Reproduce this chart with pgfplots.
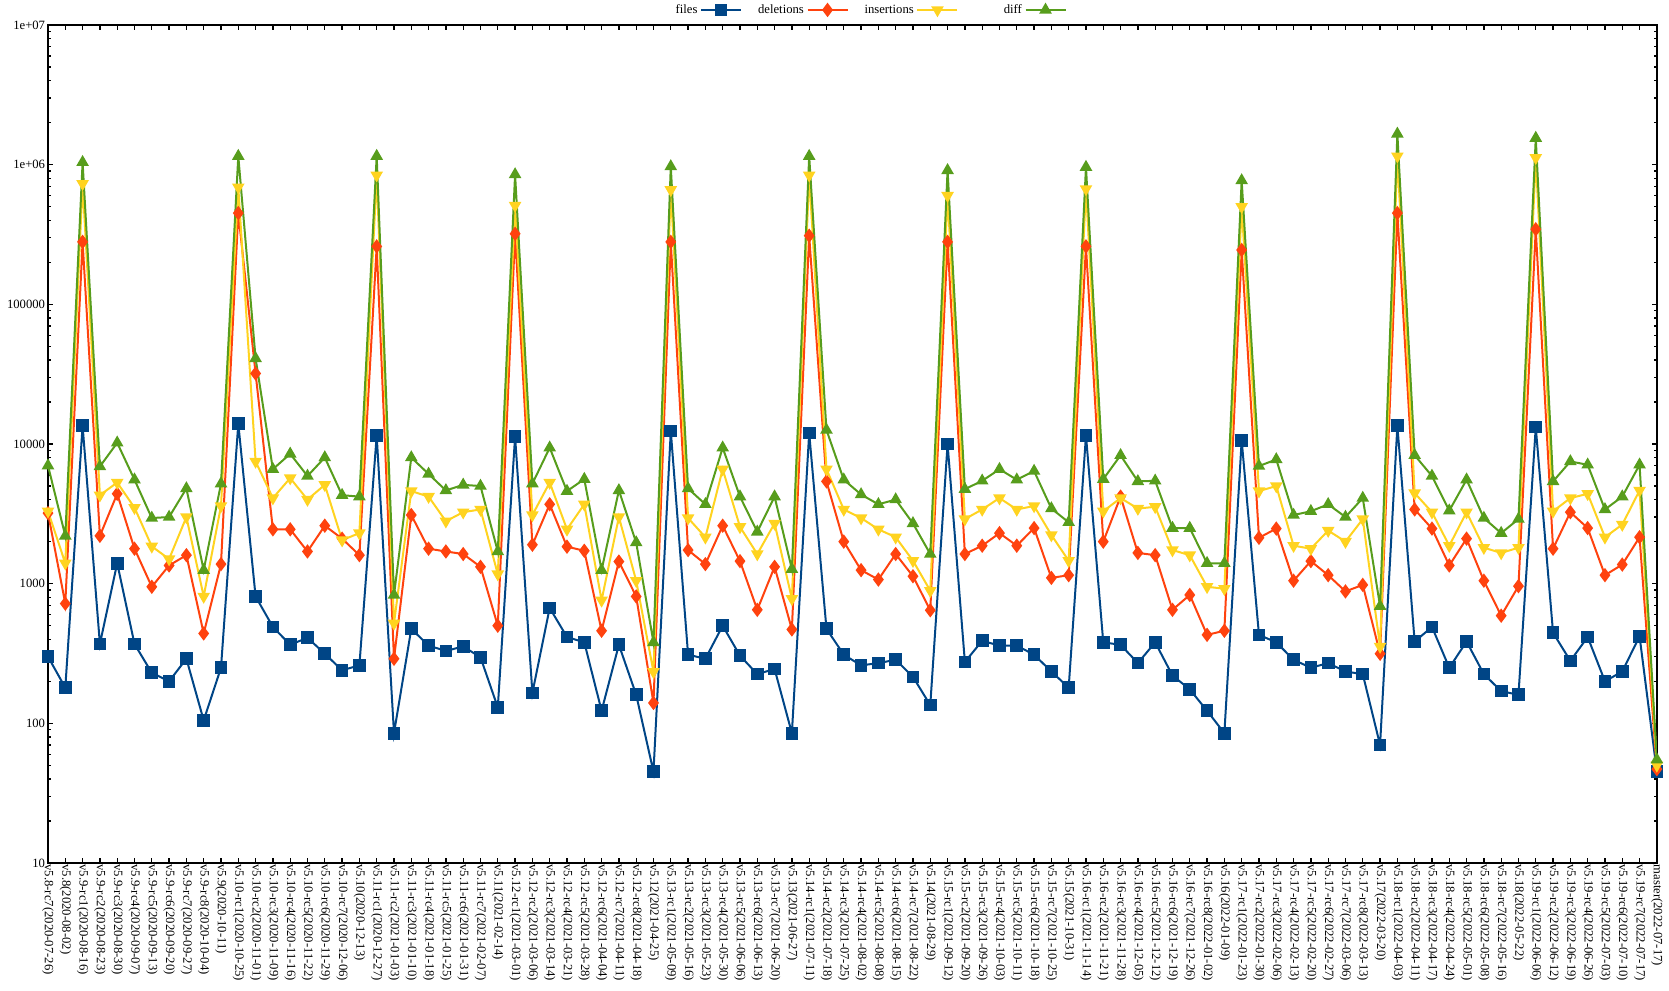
\documentclass[border=0pt]{standalone}
\usepackage{fontspec}
\setmainfont{Liberation Serif}
\usepackage{pgfplots}
\usepackage{pgfplotstable}
\pgfplotsset{compat=1.18}
\definecolor{cfiles}{HTML}{004586}
\definecolor{cdel}{HTML}{FF420E}
\definecolor{cins}{HTML}{FFD320}
\definecolor{cdiff}{HTML}{579D1C}
\pgfplotstableread{
i files del ins diff
0 300 3200 3300 7000
1 180 720 1400 2200
2 13500 280000 730000 1040000
3 370 2200 4300 6900
4 1400 4400 5300 10200
5 370 1780 3500 5550
6 230 950 1850 2950
7 200 1350 1500 3000
8 290 1600 3000 4800
9 105 440 810 1250
10 250 1380 3600 5200
11 14000 450000 690000 1150000
12 810 32000 7500 41000
13 490 2450 4100 6600
14 365 2450 5700 8500
15 410 1700 4000 5900
16 315 2600 5100 8000
17 240 2100 2050 4300
18 260 1600 2300 4200
19 11500 260000 840000 1150000
20 85 290 520 830
21 475 3100 4600 8000
22 360 1780 4200 6100
23 330 1700 2800 4650
24 355 1630 3250 5100
25 297 1320 3400 5000
26 130 500 1170 1700
27 11300 320000 510000 850000
28 165 1900 3100 5200
29 670 3700 5300 9400
30 415 1840 2450 4600
31 380 1720 3700 5600
32 123 460 760 1250
33 365 1440 3000 4650
34 160 810 1050 1970
35 45 140 234 380
36 12400 280000 660000 970000
37 310 1740 2950 4800
38 290 1380 2150 3700
39 500 2600 6600 9400
40 305 1450 2550 4200
41 225 650 1630 2350
42 245 1320 2700 4200
43 85 470 780 1270
44 12000 310000 840000 1150000
45 475 5400 6600 12600
46 310 2000 3400 5550
47 260 1250 2950 4350
48 270 1070 2450 3700
49 285 1630 2150 4000
50 215 1130 1460 2700
51 135 645 890 1630
52 10000 280000 600000 910000
53 275 1630 2900 4750
54 390 1870 3400 5450
55 360 2300 4100 6600
56 360 1870 3400 5550
57 310 2500 3600 6400
58 235 1100 2230 3450
59 180 1150 1460 2750
60 11500 260000 670000 960000
61 380 2000 3300 5600
62 365 4200 4100 8300
63 270 1660 3450 5400
64 380 1600 3550 5450
65 220 650 1740 2500
66 175 830 1600 2500
67 123 430 950 1400
68 85 460 920 1400
69 10600 245000 500000 770000
70 430 2130 4600 6950
71 380 2480 5000 7750
72 285 1050 1870 3100
73 250 1450 1780 3300
74 270 1150 2400 3700
75 235 880 2000 3000
76 225 980 2900 4100
77 70 315 355 690
78 13500 450000 1150000 1660000
79 385 3400 4450 8300
80 490 2480 3250 5900
81 250 1350 1870 3330
82 385 2100 3250 5550
83 225 1050 1810 2950
84 170 590 1660 2300
85 160 960 1810 2900
86 13200 345000 1120000 1550000
87 445 1780 3300 5400
88 280 3250 4100 7500
89 415 2500 4400 7100
90 200 1150 2150 3400
91 235 1370 2650 4200
92 420 2150 4650 7100
93 45 47 50 55
}\datatable
\begin{document}
\begin{tikzpicture}
\begin{axis}[
  at={(0,0)}, anchor=south west,
  scale only axis, width=1206.75pt, height=628.5pt,
  ymode=log, log basis y=10,
  xmin=0, xmax=93, ymin=10, ymax=1e7,
  enlarge x limits=false,
  xtick={0,...,93},
  xticklabels={v5.8-rc7(2020-07-26),v5.8(2020-08-02),v5.9-rc1(2020-08-16),v5.9-rc2(2020-08-23),v5.9-rc3(2020-08-30),v5.9-rc4(2020-09-07),v5.9-rc5(2020-09-13),v5.9-rc6(2020-09-20),v5.9-rc7(2020-09-27),v5.9-rc8(2020-10-04),v5.9(2020-10-11),v5.10-rc1(2020-10-25),v5.10-rc2(2020-11-01),v5.10-rc3(2020-11-09),v5.10-rc4(2020-11-16),v5.10-rc5(2020-11-22),v5.10-rc6(2020-11-29),v5.10-rc7(2020-12-06),v5.10(2020-12-13),v5.11-rc1(2020-12-27),v5.11-rc2(2021-01-03),v5.11-rc3(2021-01-10),v5.11-rc4(2021-01-18),v5.11-rc5(2021-01-25),v5.11-rc6(2021-01-31),v5.11-rc7(2021-02-07),v5.11(2021-02-14),v5.12-rc1(2021-03-01),v5.12-rc2(2021-03-06),v5.12-rc3(2021-03-14),v5.12-rc4(2021-03-21),v5.12-rc5(2021-03-28),v5.12-rc6(2021-04-04),v5.12-rc7(2021-04-11),v5.12-rc8(2021-04-18),v5.12(2021-04-25),v5.13-rc1(2021-05-09),v5.13-rc2(2021-05-16),v5.13-rc3(2021-05-23),v5.13-rc4(2021-05-30),v5.13-rc5(2021-06-06),v5.13-rc6(2021-06-13),v5.13-rc7(2021-06-20),v5.13(2021-06-27),v5.14-rc1(2021-07-11),v5.14-rc2(2021-07-18),v5.14-rc3(2021-07-25),v5.14-rc4(2021-08-02),v5.14-rc5(2021-08-08),v5.14-rc6(2021-08-15),v5.14-rc7(2021-08-22),v5.14(2021-08-29),v5.15-rc1(2021-09-12),v5.15-rc2(2021-09-20),v5.15-rc3(2021-09-26),v5.15-rc4(2021-10-03),v5.15-rc5(2021-10-11),v5.15-rc6(2021-10-18),v5.15-rc7(2021-10-25),v5.15(2021-10-31),v5.16-rc1(2021-11-14),v5.16-rc2(2021-11-21),v5.16-rc3(2021-11-28),v5.16-rc4(2021-12-05),v5.16-rc5(2021-12-12),v5.16-rc6(2021-12-19),v5.16-rc7(2021-12-26),v5.16-rc8(2022-01-02),v5.16(2022-01-09),v5.17-rc1(2022-01-23),v5.17-rc2(2022-01-30),v5.17-rc3(2022-02-06),v5.17-rc4(2022-02-13),v5.17-rc5(2022-02-20),v5.17-rc6(2022-02-27),v5.17-rc7(2022-03-06),v5.17-rc8(2022-03-13),v5.17(2022-03-20),v5.18-rc1(2022-04-03),v5.18-rc2(2022-04-11),v5.18-rc3(2022-04-17),v5.18-rc4(2022-04-24),v5.18-rc5(2022-05-01),v5.18-rc6(2022-05-08),v5.18-rc7(2022-05-16),v5.18(2022-05-22),v5.19-rc1(2022-06-06),v5.19-rc2(2022-06-12),v5.19-rc3(2022-06-19),v5.19-rc4(2022-06-26),v5.19-rc5(2022-07-03),v5.19-rc6(2022-07-10),v5.19-rc7(2022-07-17),master(2022-07-17)},
  xticklabel style={rotate=-90, anchor=west, font=\fontsize{9.5}{11}\selectfont, inner sep=1pt},
  ytick={10,100,1000,10000,100000,1000000,10000000},
  yticklabels={10,100,1000,10000,100000,1e+06,1e+07},
  minor ytick={20,30,40,50,60,70,80,90,200,300,400,500,600,700,800,900,2000,3000,4000,5000,6000,7000,8000,9000,20000,30000,40000,50000,60000,70000,80000,90000,200000,300000,400000,500000,600000,700000,800000,900000,2000000,3000000,4000000,5000000,6000000,7000000,8000000,9000000},
  yticklabel style={font=\fontsize{9.5}{11}\selectfont, inner sep=2pt},
  xtick pos=both, ytick pos=both,
  tick align=inside,
  major tick length=4pt, minor tick length=2pt,
  tick style={black, line width=1pt},
  axis line style={line width=1.6pt},
  legend columns=4,
  legend plot pos=right,
  legend style={draw=none, fill=none, at={(0.5,1)}, anchor=south, yshift=4pt, xshift=13pt, inner sep=1pt,
    font=\fontsize{9.5}{11}\selectfont, /tikz/every even column/.append style={column sep=10pt}},
  legend image code/.code={\draw[mark repeat=2,mark phase=2] plot coordinates {(0pt,0pt) (15pt,0pt) (30pt,0pt)};},
  every axis plot/.append style={line width=1.5pt},
]
\addplot[color=cfiles, mark=square*, mark size=4pt, mark options={solid}] table[x=i,y=files] {\datatable};
\addlegendentry{files}
\addplot[color=cdel, mark=diamond*, mark size=4.2pt, mark options={solid}] table[x=i,y=del] {\datatable};
\addlegendentry{deletions}
\addplot[color=cins, mark=triangle*, mark size=4pt, mark options={solid, rotate=180}] table[x=i,y=ins] {\datatable};
\addlegendentry{insertions}
\addplot[color=cdiff, mark=triangle*, mark size=4pt, mark options={solid}] table[x=i,y=diff] {\datatable};
\addlegendentry{\hspace{22pt}diff}
\end{axis}
\pgfresetboundingbox
\path[use as bounding box] (-36pt,-96pt) rectangle (1215.75pt,647.25pt);
\end{tikzpicture}
\end{document}
